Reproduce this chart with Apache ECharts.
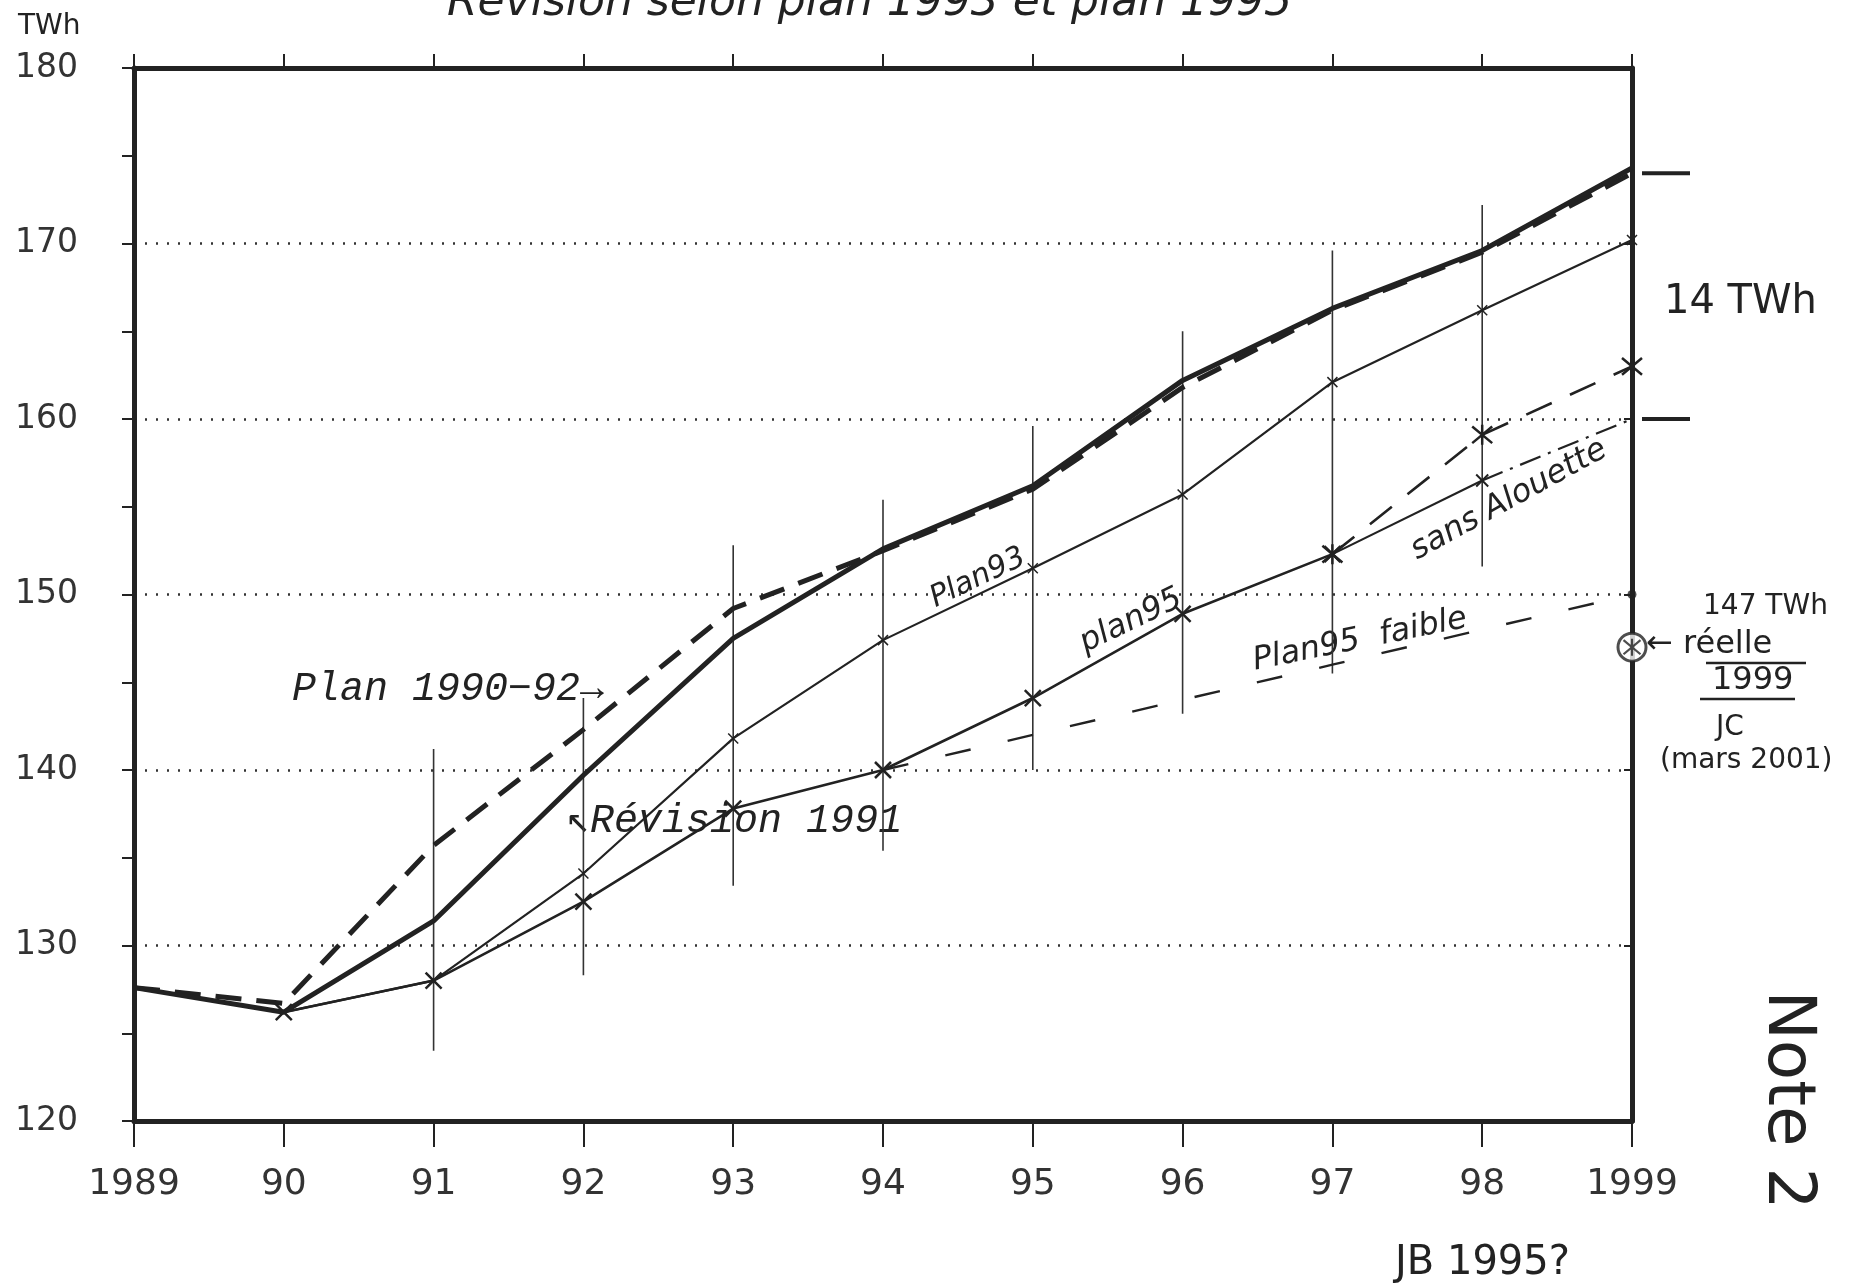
<!DOCTYPE html>
<html>
<head>
<meta charset="utf-8">
<title>Révision selon plan 1993 et plan 1995</title>
<script src="https://cdn.jsdelivr.net/npm/echarts@6/dist/echarts.min.js"></script>
<style>
  html, body { margin: 0; padding: 0; background: #fff; }
  #chart { width: 1870px; height: 1283px; }
</style>
</head>
<body>
<div id="chart"></div>
<script>
// years on the x axis and what is printed under each tick
const years = [1989, 1990, 1991, 1992, 1993, 1994, 1995, 1996, 1997, 1998, 1999];
const yearLabels = ['1989', '90', '91', '92', '93', '94', '95', '96', '97', '98', '1999'];

// TWh
const plan1990_92 = [127.6, 126.7, 135.7, 142.3, 149.2, 152.5, 156.0, 161.8, 166.2, 169.5, 174.0];
const revision1991 = [127.6, 126.2, 131.4, 139.7, 147.5, 152.6, 156.2, 162.2, 166.3, 169.6, 174.3];
const plan93 = [null, 126.2, 128.0, 134.1, 141.8, 147.4, 151.5, 155.7, 162.1, 166.2, 170.2];
const plan95 = [null, 126.2, 128.0, 132.5, 137.8, 140.0, 144.1, 148.9, 152.3, null, null];
const plan95Alouette = [null, null, null, null, null, null, null, null, 152.3, 159.1, 163.0];
const sansAlouette = [null, null, null, null, null, null, null, null, 152.3, 156.5, 160.0];
const plan95Faible = [null, null, null, null, null, 140.0, 142.0, 144.0, 146.0, 148.0, 150.0];
const reelle1999 = 147;

// thin vertical range lines drawn at each year
const rangeYears = [1991, 1992, 1993, 1994, 1995, 1996, 1997, 1998];
const rangeLow = [124.0, 128.3, 133.4, 135.4, 140.0, 143.2, 145.5, 151.6];
const rangeHigh = [141.2, 144.1, 152.8, 155.4, 159.6, 165.0, 169.6, 172.2];

// the two marks right of the axis bracketing "14 TWh"
const bracketValues = [174, 160];

const ink = '#222';
const crossSmall = 'path://M0,0L10,10M10,0L0,10';
const crossStar = 'path://M0,0L10,10M10,0L0,10M5,-1L5,11';

function pairs(values) {
  let out = [];
  years.forEach(function (y, i) {
    if (values[i] != null) out.push([y, values[i]]);
  });
  return out;
}

function slice(values, from, to) {
  return pairs(values).filter(function (p) { return p[0] >= from && p[0] <= to; });
}

let chart = echarts.init(document.getElementById('chart'));

let handFont = "'DejaVu Sans', sans-serif";
let printFont = "'Liberation Mono', 'DejaVu Sans Mono', monospace";

function note(text, x, y, size, rot, extra) {
  return {
    type: 'text',
    x: x,
    y: y,
    rotation: rot || 0,
    style: Object.assign({
      text: text,
      fill: ink,
      font: size + 'px ' + handFont,
      textAlign: 'left',
      textVerticalAlign: 'middle'
    }, extra || {})
  };
}

function rule(x1, y1, x2, y2, w) {
  return { type: 'line', shape: { x1: x1, y1: y1, x2: x2, y2: y2 }, style: { stroke: ink, lineWidth: w || 2 } };
}

let option = {
  backgroundColor: '#fff',
  animation: false,
  grid: { left: 134, right: 238, top: 68, bottom: 162 },
  xAxis: [
    {
      type: 'value', min: 1989, max: 1999, interval: 1, position: 'bottom',
      axisLine: { lineStyle: { color: ink, width: 5 } },
      axisTick: { length: 26, lineStyle: { color: ink, width: 2 } },
      axisLabel: {
        margin: 46, color: '#333', fontSize: 36, fontFamily: "'DejaVu Sans', sans-serif",
        formatter: function (v) { return yearLabels[years.indexOf(v)]; }
      },
      splitLine: { show: false }
    },
    {
      type: 'value', min: 1989, max: 1999, interval: 1, position: 'top',
      axisLine: { lineStyle: { color: ink, width: 5 } },
      axisTick: { length: 14, lineStyle: { color: ink, width: 2 } },
      axisLabel: { show: false },
      splitLine: { show: false }
    }
  ],
  yAxis: [
    {
      type: 'value', min: 120, max: 180, interval: 10, position: 'left',
      axisLine: { show: true, lineStyle: { color: ink, width: 5 } },
      axisTick: { show: true, length: 12, lineStyle: { color: ink, width: 2 } },
      minorTick: { show: true, splitNumber: 2, length: 12, lineStyle: { color: ink, width: 2 } },
      axisLabel: { margin: 56, color: '#333', fontSize: 33, fontFamily: "'DejaVu Sans', sans-serif" },
      splitLine: { show: true, lineStyle: { color: '#333', width: 2.5, type: [2, 9] } }
    },
    {
      type: 'value', min: 120, max: 180, interval: 10, position: 'right',
      axisLine: { show: true, lineStyle: { color: ink, width: 5 } },
      axisTick: { show: true, inside: true, length: 8, lineStyle: { color: ink, width: 2 } },
      axisLabel: { show: false },
      splitLine: { show: false }
    }
  ],
  series: [
    {
      name: 'Plage', type: 'custom', z: 1,
      data: rangeYears.map(function (y, i) { return [y, rangeLow[i], rangeHigh[i]]; }),
      renderItem: function (params, api) {
        let a = api.coord([api.value(0), api.value(1)]);
        let b = api.coord([api.value(0), api.value(2)]);
        return { type: 'line', shape: { x1: a[0], y1: a[1], x2: b[0], y2: b[1] }, style: { stroke: '#333', lineWidth: 1.6 } };
      }
    },
    {
      name: 'Plan 1990-92', type: 'line', data: pairs(plan1990_92), showSymbol: false,
      lineStyle: { color: ink, width: 5, type: [26, 15] }, z: 3
    },
    {
      name: 'Révision 1991', type: 'line', data: pairs(revision1991), showSymbol: false,
      lineStyle: { color: ink, width: 5 }, z: 4
    },
    {
      name: 'Plan 93', type: 'line', data: pairs(plan93),
      symbol: crossSmall, symbolSize: 10,
      itemStyle: { color: ink, borderColor: ink, borderWidth: 1.5 },
      lineStyle: { color: ink, width: 2.2 }, z: 3
    },
    {
      name: 'Plan 95', type: 'line', data: pairs(plan95),
      symbol: crossSmall, symbolSize: 16,
      itemStyle: { color: ink, borderColor: ink, borderWidth: 2.5 },
      lineStyle: { color: ink, width: 2.6 }, z: 3
    },
    {
      name: 'Plan 95 (Alouette)', type: 'line', data: pairs(plan95Alouette),
      symbol: crossStar, symbolSize: 20,
      itemStyle: { color: ink, borderColor: ink, borderWidth: 2.5 },
      lineStyle: { color: ink, width: 2.6, type: [28, 20] }, z: 3
    },
    {
      name: 'sans Alouette', type: 'line', data: slice(sansAlouette, 1997, 1998),
      symbol: crossSmall, symbolSize: 12,
      itemStyle: { color: ink, borderColor: ink, borderWidth: 2 },
      lineStyle: { color: ink, width: 2.2 }, z: 3
    },
    {
      name: 'sans Alouette (suite)', type: 'line', data: slice(sansAlouette, 1998, 1999), showSymbol: false,
      lineStyle: { color: ink, width: 2.2, type: [22, 8, 3, 8] }, z: 3
    },
    {
      name: 'Plan 95 faible', type: 'line', data: pairs(plan95Faible), showSymbol: false,
      lineStyle: { color: ink, width: 2.4, type: [26, 38] }, z: 3
    },
    {
      name: 'fin faible', type: 'scatter', data: slice(plan95Faible, 1999, 1999),
      symbol: 'circle', symbolSize: 9, itemStyle: { color: ink }, z: 5
    },
    {
      name: 'réelle 1999', type: 'scatter', data: [[1999, reelle1999]],
      symbol: 'circle', symbolSize: 28,
      itemStyle: { color: '#fff', borderColor: ink, borderWidth: 3 }, z: 6
    },
    {
      name: 'réelle 1999 x', type: 'scatter', data: [[1999, reelle1999]],
      symbol: crossStar, symbolSize: 17,
      itemStyle: { color: ink, borderColor: ink, borderWidth: 2.2 }, z: 7
    },
    {
      name: '14 TWh', type: 'custom', z: 5,
      data: bracketValues.map(function (v) { return [1999, v]; }),
      renderItem: function (params, api) {
        let p = api.coord([api.value(0), api.value(1)]);
        return { type: 'line', shape: { x1: p[0] + 10, y1: p[1], x2: p[0] + 58, y2: p[1] }, style: { stroke: ink, lineWidth: 4 } };
      }
    }
  ],
  graphic: [
    note('Révision selon plan 1993 et plan 1995', 447, 26, 44, 0, { font: 'italic 44px ' + handFont, textVerticalAlign: 'bottom' }),
    note('TWh', 18, 27, 28),
    note('Plan 1990−92→', 292, 689, 40, 0, { font: 'italic 40px ' + printFont }),
    note('↖Révision 1991', 566, 821, 40, 0, { font: 'italic 40px ' + printFont }),
    note('Plan93', 978, 578, 30, 0.45, { textAlign: 'center', font: 'italic 30px ' + handFont }),
    note('plan95', 1131, 621, 32, 0.45, { textAlign: 'center', font: 'italic 32px ' + handFont }),
    note('Plan95  faible', 1360, 640, 32, 0.2, { textAlign: 'center', font: 'italic 32px ' + handFont }),
    note('sans Alouette', 1509, 500, 32, 0.5, { textAlign: 'center', font: 'italic 32px ' + handFont }),
    note('14 TWh', 1664, 303, 40),
    note('147 TWh', 1703, 607, 28),
    note('← réelle', 1646, 645, 32),
    rule(1706, 663, 1806, 663, 2.5),
    note('1999', 1712, 681, 32),
    rule(1700, 699, 1795, 699, 2.5),
    note('JC', 1716, 728, 28),
    note('(mars 2001)', 1660, 761, 28),
    note('Note 2', 1786, 1100, 66, -Math.PI / 2, { textAlign: 'center' }),
    note('JB 1995?', 1395, 1264, 40)
  ]
};

chart.setOption(option);
</script>
</body>
</html>
